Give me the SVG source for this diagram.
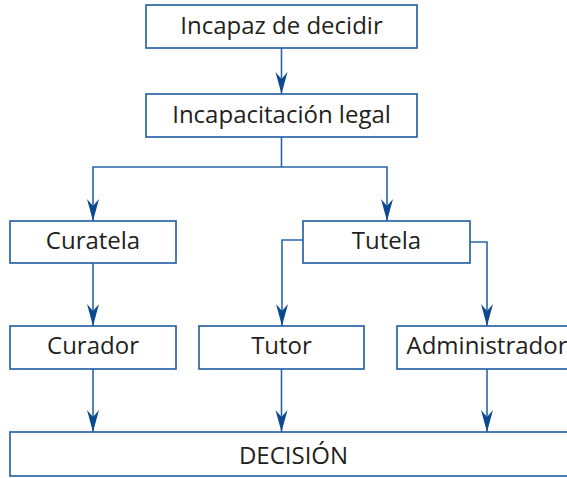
<svg xmlns="http://www.w3.org/2000/svg" width="567" height="478" viewBox="0 0 567 478">
<style>
.box{fill:#fff;stroke:#1f5ba0;stroke-width:1.6}
.lbl{font-family:"Open Sans","Liberation Sans",sans-serif;font-size:24px;fill:#231f20;text-anchor:middle}
.con{fill:none;stroke:#2b65a8;stroke-width:1.6;marker-end:url(#ah)}
</style>
<defs>
<marker id="ah" markerUnits="userSpaceOnUse" markerWidth="24" markerHeight="14" refX="22" refY="6.5" orient="auto" viewBox="0 0 24 14">
<path d="M0,0.5 L22,6.5 L0,12.5 L7,6.5 z" fill="#0b4a91"/>
</marker>
</defs>
<rect width="567" height="478" fill="#fff"/>
<g id="connectors">
<path class="con" d="M281.5,48 V94"/>
<path class="con" d="M281.5,137 V167 H93 V221"/>
<path class="con" d="M281.5,167 H387 V221"/>
<path class="con" d="M93,263 V326"/>
<path class="con" d="M303,240 H282 V326"/>
<path class="con" d="M470,242 H487 V326"/>
<path class="con" d="M93,369 V432"/>
<path class="con" d="M281.5,369 V432"/>
<path class="con" d="M487,369 V432"/>
</g>
<g id="incapaz"><rect class="box" x="146" y="5" width="271" height="43"/><text class="lbl" x="281.5" y="33.5">Incapaz de decidir</text></g>
<g id="incapacitacion"><rect class="box" x="146" y="94" width="271" height="43"/><text class="lbl" x="281.5" y="122.5">Incapacitación legal</text></g>
<g id="curatela"><rect class="box" x="10" y="221" width="166" height="42"/><text class="lbl" x="93" y="248.5">Curatela</text></g>
<g id="tutela"><rect class="box" x="303" y="221" width="167" height="42"/><text class="lbl" x="386.5" y="248.5">Tutela</text></g>
<g id="curador"><rect class="box" x="10" y="326" width="166" height="43"/><text class="lbl" x="93" y="353.5">Curador</text></g>
<g id="tutor"><rect class="box" x="199" y="326" width="165" height="43"/><text class="lbl" x="281.5" y="353.5">Tutor</text></g>
<g id="administrador"><rect class="box" x="397" y="326" width="180" height="43"/><text class="lbl" x="487" y="353.5">Administrador</text></g>
<g id="decision"><rect class="box" x="10" y="432" width="567" height="44"/><text class="lbl" x="293.5" y="463.5">DECISIÓN</text></g>
</svg>
